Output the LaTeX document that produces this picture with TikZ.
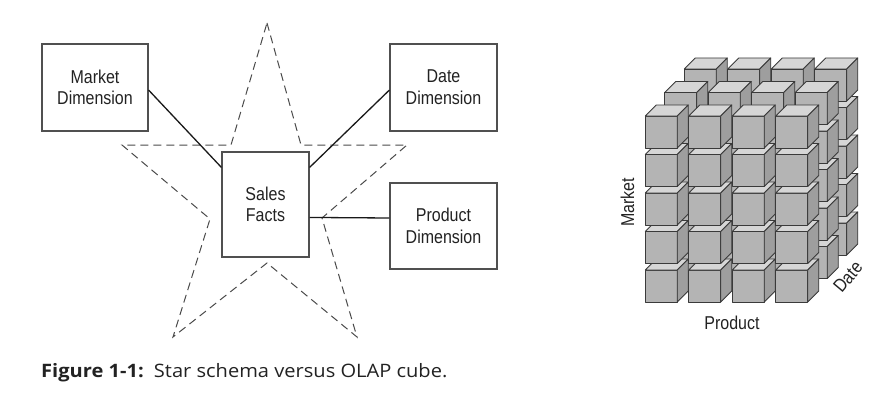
\documentclass[tikz,border=0pt]{standalone}
\usepackage{fontspec}
\setsansfont{Liberation Sans}[FakeStretch=0.86]
\newfontfamily\capfont{Open Sans}[FakeStretch=1.085]
\definecolor{boxgray}{HTML}{505050}
\definecolor{textgray}{HTML}{222222}
\definecolor{stargray}{HTML}{4A4A4A}
\definecolor{cubefront}{HTML}{B4B4B4}
\definecolor{cubetop}{HTML}{D6D6D6}
\definecolor{cubeside}{HTML}{9E9E9E}
\definecolor{cubeedge}{HTML}{3A3A3A}
\newcommand\lblfont{\sffamily\fontsize{18.6}{21.7}\selectfont}
\newcommand\drawcube[2]{%
  \filldraw[cubeline, fill=cubefront] (#1,#2) rectangle ++(32,32);
  \filldraw[cubeline, fill=cubetop] (#1,#2) -- ++(11,-11) -- ++(32,0) -- ++(-11,11) -- cycle;
  \filldraw[cubeline, fill=cubeside] (#1+32,#2) -- ++(11,-11) -- ++(0,32) -- ++(-11,11) -- cycle;
}
\tikzset{
  dimbox/.style={draw=boxgray, line width=1.1pt, fill=white, align=center,
    font=\lblfont, text=textgray, inner sep=0pt},
  conn/.style={draw=black!90, line width=1.3pt},
  stardash/.style={draw=stargray, line width=1pt, dash pattern=on 8pt off 5pt},
  cubeline/.style={draw=cubeedge, line width=0.8pt, line join=round},
  axislbl/.style={font=\lblfont, text=textgray, inner sep=0pt},
}
\begin{document}
\begin{tikzpicture}[x=1pt, y=-1pt]
\useasboundingbox (0,0) rectangle (892,404);
% star
\draw[stardash] (267,23) -- (301,145) -- (407,145) -- (322,218) -- (357,337)
  -- (267,263) -- (173,337) -- (210,219) -- (122,145) -- (231,145) -- cycle;
% boxes
\node[dimbox, minimum width=106pt, minimum height=87pt] (market) at (95,87.5) {Market\\Dimension};
\node[dimbox, minimum width=107pt, minimum height=87pt] (date) at (443.5,87.5) {Date\\Dimension};
\node[dimbox, minimum width=107pt, minimum height=86pt] (product) at (443.5,226) {Product\\Dimension};
\node[dimbox, minimum width=87pt, minimum height=105pt] (sales) at (265.5,204.5) {Sales\\Facts};
% connectors
\draw[conn] ([yshift=-2.5pt]market.east) -- ([yshift=-16pt]sales.north west);
\draw[conn] ([yshift=-16pt]sales.north east) -- ([yshift=-2.5pt]date.west);
\draw[conn] ([yshift=-66pt]sales.north east) -- ([yshift=8pt]product.west);
% cube
\foreach \l in {2,1,0}{
  \foreach \r in {4,3,2,1,0}{
    \foreach \c in {0,1,2,3}{
      \pgfmathsetmacro\cx{645.3+43.5*\c+19.5*\l}
      \pgfmathsetmacro\cy{116+38.5*\r-23.5*\l}
      \drawcube{\cx}{\cy}
    }}}
\node[axislbl, rotate=90] (mktlbl) at (627.5,202.5) {Market};
\node[axislbl] (prodlbl) at (732,323) {Product};
\node[axislbl, rotate=50] (datelbl) at (848,277) {Date};
% caption
\node[anchor=base west, inner sep=0pt, text=textgray] (cap) at (41,377)
  {\capfont\fontsize{18.5}{22}\selectfont\textbf{Figure 1-1:}\hspace{0.55em}Star schema versus OLAP cube.};
\end{tikzpicture}
\end{document}
